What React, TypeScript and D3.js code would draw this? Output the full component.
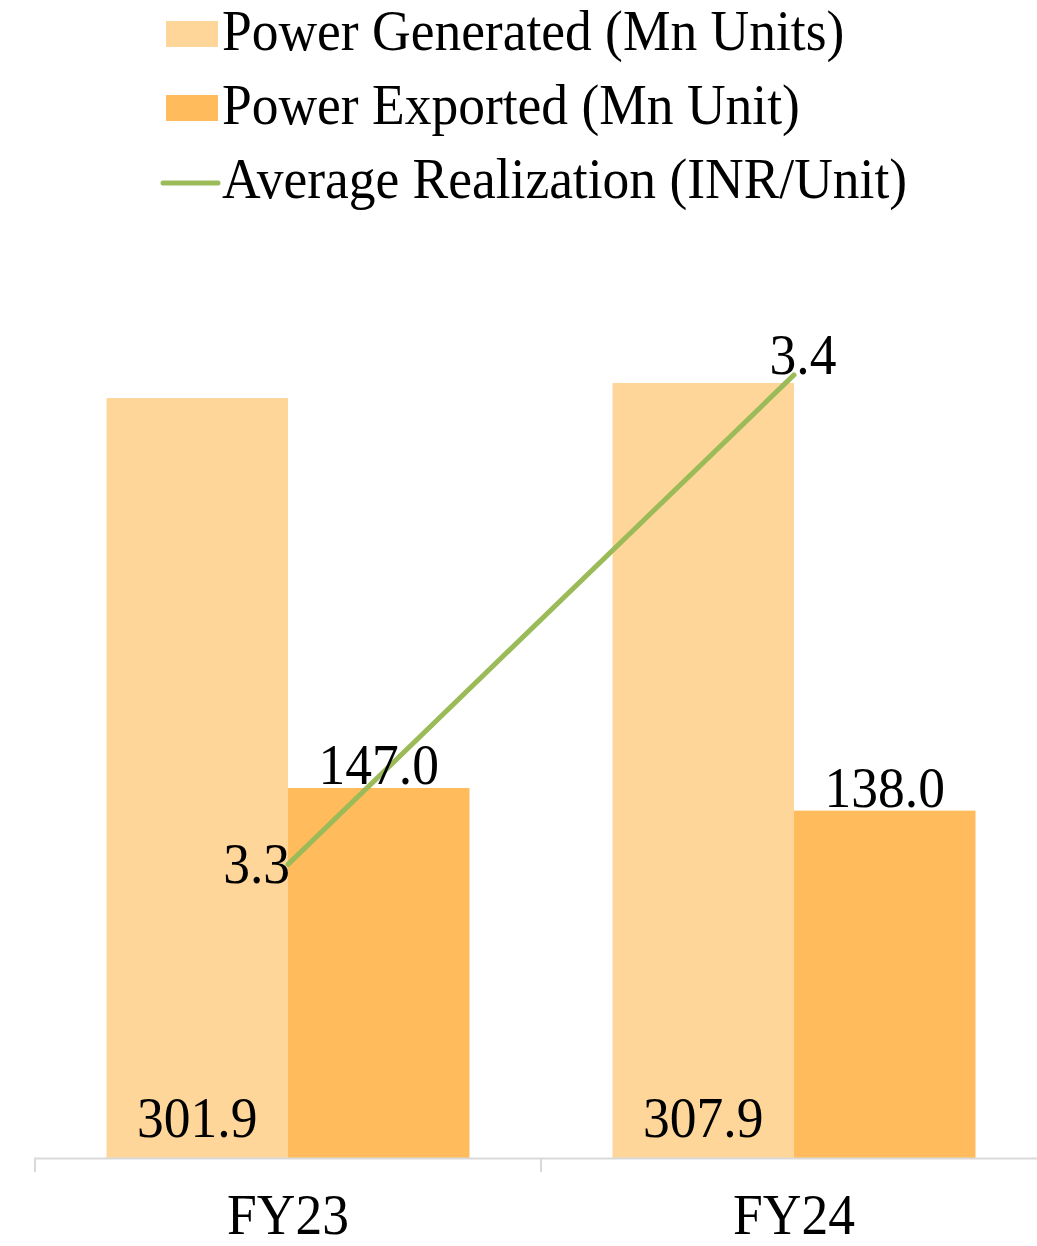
import React, { useEffect, useRef } from 'react';
import * as d3 from 'd3';

// chart data
const categories = ['FY23', 'FY24'];
const powerGenerated = [301.9, 307.9];
const powerExported = [147.0, 138.0];
const avgRealization = [3.3, 3.4];
const seriesNames = ['Power Generated (Mn Units)', 'Power Exported (Mn Unit)', 'Average Realization (INR/Unit)'];

const App = () => {
  const svgRef = useRef<SVGSVGElement>(null);

  useEffect(() => {
    const svg = d3.select(svgRef.current);
    const width = 1037;
    const font = '"Liberation Serif", "Times New Roman", serif';
    const fontSize = 53.5;
    const stretch = 1.06; // text in the source is slightly taller than wide

    const colors = ['#ffd699', '#ffbb5c', '#9bbb59'];

    const baseline = 1158;
    const x0 = d3.scaleBand<string>().domain(categories).range([35, 1047]).padding(0);
    const x1 = d3
      .scaleBand<string>()
      .domain(['gen', 'exp'])
      .range([0, x0.bandwidth()])
      .paddingInner(0)
      .paddingOuter(0.394);

    const y = d3.scaleLinear().domain([0, 350]).range([baseline, 277]);
    const y2 = d3.scaleLinear().domain([3.24, 3.42]).range([baseline, 277]);

    const addText = (g, x, yy, txt, anchor = 'middle') =>
      g
        .append('text')
        .attr('transform', `translate(${x},${yy}) scale(1,${stretch})`)
        .attr('text-anchor', anchor)
        .style('font-family', font)
        .style('font-size', `${fontSize}px`)
        .attr('fill', '#000')
        .text(txt);

    // legend
    const legend = svg.append('g');
    const rows = [50, 124, 198];
    rows.forEach((ry, i) => {
      if (i < 2) {
        legend
          .append('rect')
          .attr('x', 166)
          .attr('y', ry - 29)
          .attr('width', 52)
          .attr('height', 26)
          .attr('fill', colors[i]);
      } else {
        legend
          .append('line')
          .attr('x1', 163)
          .attr('x2', 218)
          .attr('y1', ry - 15)
          .attr('y2', ry - 15)
          .attr('stroke', colors[2])
          .attr('stroke-width', 5)
          .attr('stroke-linecap', 'round');
      }
      addText(legend, 222, ry, seriesNames[i], 'start');
    });

    const plot = svg.append('g');

    // bars
    categories.forEach((c, i) => {
      const bx = x0(c)!;
      plot
        .append('rect')
        .attr('x', bx + x1('gen')!)
        .attr('y', y(powerGenerated[i]))
        .attr('width', x1.bandwidth())
        .attr('height', baseline - y(powerGenerated[i]))
        .attr('fill', colors[0]);
      plot
        .append('rect')
        .attr('x', bx + x1('exp')!)
        .attr('y', y(powerExported[i]))
        .attr('width', x1.bandwidth())
        .attr('height', baseline - y(powerExported[i]))
        .attr('fill', colors[1]);
    });

    // axis line and ticks
    plot
      .append('line')
      .attr('x1', 34)
      .attr('x2', width)
      .attr('y1', baseline + 0.5)
      .attr('y2', baseline + 0.5)
      .attr('stroke', '#d9d9d9')
      .attr('stroke-width', 2);
    categories.forEach((c) => {
      plot
        .append('line')
        .attr('x1', x0(c)!)
        .attr('x2', x0(c)!)
        .attr('y1', baseline)
        .attr('y2', baseline + 14)
        .attr('stroke', '#d9d9d9')
        .attr('stroke-width', 2);
      addText(plot, x0(c)! + x0.bandwidth() / 2, 1234, c);
    });

    // line on secondary axis
    const linePts = categories.map((c, i) => [x0(c)! + x0.bandwidth() / 2, y2(avgRealization[i])] as [number, number]);
    plot
      .append('path')
      .attr('d', d3.line()(linePts))
      .attr('fill', 'none')
      .attr('stroke', colors[2])
      .attr('stroke-width', 5)
      .attr('stroke-linecap', 'round');

    // data labels
    categories.forEach((c, i) => {
      const bx = x0(c)!;
      addText(plot, bx + x1('gen')! + x1.bandwidth() / 2, 1137, powerGenerated[i].toFixed(1));
      addText(plot, bx + x1('exp')! + x1.bandwidth() / 2, y(powerExported[i]) - 4, powerExported[i].toFixed(1));
    });
    addText(plot, linePts[0][0] + 2, linePts[0][1] + 19, avgRealization[0].toFixed(1), 'end');
    addText(plot, linePts[1][0] + 9, linePts[1][1] - 1, avgRealization[1].toFixed(1));

    return () => {
      svg.selectAll('*').remove();
    };
  }, []);

  return (
    <svg
      ref={svgRef}
      width={1037}
      height={1246}
      style={{ position: 'absolute', left: 0, top: 0, background: '#fff' }}
    ></svg>
  );
};

export default App;
